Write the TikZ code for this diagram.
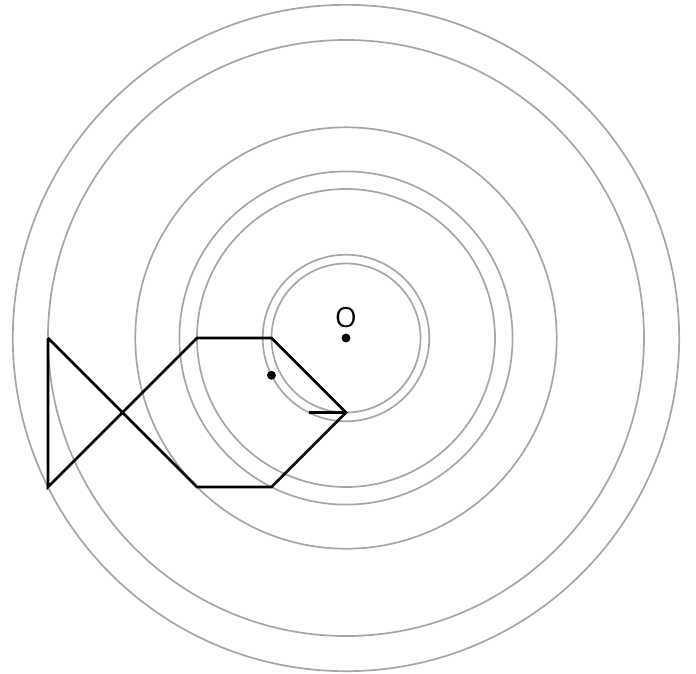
\documentclass[tikz,border=0pt]{standalone}
\usepackage{fontspec}
\setsansfont{Open Sans}
\begin{document}
\begin{tikzpicture}[circ/.style={draw=black!35,line width=0.65pt},fish/.style={line width=1pt,line join=miter}]
\useasboundingbox (-4.644,-4.497) rectangle (4.698,4.537);
\foreach \r in {1,1.118,2,2.236,2.828,4,4.472}
  \draw[circ] (0,0) circle (\r);

\coordinate (t1) at (-4,0);
\coordinate (t2) at (-4,-2);
\coordinate (a) at (-2,0);
\coordinate (b) at (-1,0);
\coordinate (c) at (0,-1);
\coordinate (d) at (-1,-2);
\coordinate (e) at (-2,-2);
\coordinate (m) at (-0.5,-1);

\draw[fish] (t1) -- (t2) -- (a) -- (b) -- (c) -- (d) -- (e) -- (t1);
\draw[line width=1.3pt] (m) -- (c);

\fill (-1,-0.5) circle (0.06);
\fill (0,0) circle (0.06);
\node[font=\sffamily\fontsize{10.6}{12}\selectfont] (o) at (0,0.27) {O};
\end{tikzpicture}
\end{document}
